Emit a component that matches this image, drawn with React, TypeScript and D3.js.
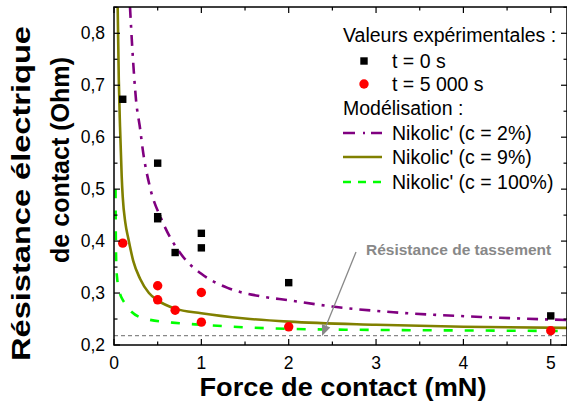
import React from "react";
import * as d3 from "d3";

// ---------- data ----------
const forceT0 = [0.1, 0.5, 0.5, 0.5, 0.7, 1, 1, 2, 5];
const resT0 = [0.673, 0.55, 0.447, 0.443, 0.378, 0.415, 0.387, 0.32, 0.256];

const forceT5000 = [0.1, 0.5, 0.5, 0.7, 1, 1, 2, 5];
const resT5000 = [0.396, 0.314, 0.287, 0.267, 0.301, 0.244, 0.235, 0.2275];

// Nikolic' c = 2 %
const forceC2 = [0.183, 0.21, 0.252, 0.3, 0.33, 0.41, 0.546, 0.79, 1, 1.3, 1.67, 2, 2.5, 3.2, 4.2, 5.19];
const resC2 = [0.851, 0.77, 0.672, 0.615, 0.575, 0.505, 0.441, 0.37, 0.337, 0.31, 0.294, 0.286, 0.274, 0.263, 0.254, 0.248];

// Nikolic' c = 9 %
const forceC9 = [0.042, 0.055, 0.069, 0.088, 0.1, 0.13, 0.164, 0.22, 0.3, 0.4, 0.5, 0.7, 1, 1.5, 2, 3, 4, 5.19];
const resC9 = [0.851, 0.71, 0.62, 0.525, 0.485, 0.435, 0.405, 0.362, 0.327, 0.3, 0.286, 0.27, 0.261, 0.251, 0.245, 0.239, 0.235, 0.233];

// Nikolic' c = 100 %
const forceC100 = [0.0175, 0.019, 0.022, 0.027, 0.035, 0.05, 0.07, 0.1, 0.126, 0.2, 0.37, 0.75, 1, 1.5, 2, 3, 4, 5.19];
const resC100 = [0.5, 0.45, 0.39, 0.35, 0.33, 0.312, 0.298, 0.287, 0.28, 0.264, 0.25, 0.242, 0.239, 0.234, 0.231, 0.229, 0.228, 0.227];

const resTassement = 0.218;

const xTicks = [0, 1, 2, 3, 4, 5];
const yTicks = [0.2, 0.3, 0.4, 0.5, 0.6, 0.7, 0.8];

const legendTitles = ["Valeurs expérimentales :", "Modélisation :"];
const pointLabels = ["t = 0 s", "t = 5 000 s"];
const curveLabels = ["Nikolic' (c = 2%)", "Nikolic' (c = 9%)", "Nikolic' (c = 100%)"];

// ---------- layout ----------
const W = 567;
const H = 403;
const L = 114, R = 567, T = 7, B = 345;

const x = d3.scaleLinear().domain([0, 5.186]).range([L, R]);
const y = d3.scaleLinear().domain([0.2, 0.8506]).range([B, T]);

const FONT = "'Liberation Sans', Arial, sans-serif";

const PURPLE = "#800080";
const OLIVE = "#808000";
const GREEN = "#00ff00";
const GREY = "#888888";

function path(fs: number[], rs: number[]) {
  const line = d3
    .line<number>()
    .x((_, i) => x(fs[i]))
    .y((_, i) => y(rs[i]))
    .curve(d3.curveMonotoneX);
  return line(fs) || "";
}

export default function App() {
  const xMinor = d3.range(0, 5.2, 0.5);
  const yMinor = d3.range(0.2, 0.851, 0.05);

  const fmtY = (v: number) => v.toFixed(1).replace(".", ",");

  // arrow
  const ax1 = 356, ay1 = 252;
  const ax2 = 322, ay2 = 336;
  const ang = Math.atan2(ay2 - ay1, ax2 - ax1);
  const ah = 11, aw = 4.5;
  const bx = ax2 - ah * Math.cos(ang);
  const by = ay2 - ah * Math.sin(ang);
  const head = [
    [ax2, ay2],
    [bx + aw * Math.sin(ang), by - aw * Math.cos(ang)],
    [bx - aw * Math.sin(ang), by + aw * Math.cos(ang)],
  ]
    .map((p) => p.join(","))
    .join(" ");

  const legX = 343;
  const legLineX2 = 382;
  const legTextX = 392;

  return (
    <svg
      width={W}
      height={H}
      viewBox={`0 0 ${W} ${H}`}
      style={{ position: "absolute", left: 0, top: 0, background: "#fff" }}
      fontFamily={FONT}
    >
      <defs>
        <clipPath id="plotclip">
          <rect x={L} y={T} width={R - L} height={B - T} />
        </clipPath>
      </defs>
      <rect x={0} y={0} width={W} height={H} fill="#fff" />

      {/* reference line */}
      <line
        x1={L}
        x2={R}
        y1={y(resTassement)}
        y2={y(resTassement)}
        stroke={GREY}
        strokeWidth={1.3}
        strokeDasharray="4,3"
      />

      {/* model curves */}
      <g clipPath="url(#plotclip)" fill="none">
        <path d={path(forceC100, resC100)} stroke={GREEN} strokeWidth={2.6} strokeDasharray="9,12" />
        <path d={path(forceC9, resC9)} stroke={OLIVE} strokeWidth={2.6} />
        <path d={path(forceC2, resC2)} stroke={PURPLE} strokeWidth={2.6} strokeDasharray="11,7,3,7" />
      </g>

      {/* points */}
      <g>
        {forceT0.map((f, i) => (
          <rect key={"s" + i} x={x(f) - 3.7} y={y(resT0[i]) - 3.7} width={7.4} height={7.4} fill="#000" />
        ))}
        {forceT5000.map((f, i) => (
          <circle key={"c" + i} cx={x(f)} cy={y(resT5000[i])} r={4.7} fill="#ff0000" />
        ))}
      </g>

      {/* frame */}
      <rect x={L} y={T} width={R - L} height={B - T} fill="none" stroke="#000" strokeWidth={1.5} />

      {/* ticks */}
      <g stroke="#000" strokeWidth={1.2}>
        {xMinor.map((v, i) => {
          const major = Math.abs(v - Math.round(v)) < 1e-6;
          const len = major ? 6 : 3.5;
          return (
            <g key={"xt" + i}>
              <line x1={x(v)} x2={x(v)} y1={B} y2={B - len} />
              <line x1={x(v)} x2={x(v)} y1={T} y2={T + len} />
            </g>
          );
        })}
        {yMinor.map((v, i) => {
          const major = Math.abs(v * 10 - Math.round(v * 10)) < 1e-6;
          const len = major ? 6 : 3.5;
          return (
            <g key={"yt" + i}>
              <line x1={L} x2={L + len} y1={y(v)} y2={y(v)} />
              <line x1={R} x2={R - len} y1={y(v)} y2={y(v)} />
            </g>
          );
        })}
      </g>

      {/* tick labels */}
      <g fontSize={17.5} fill="#000">
        {xTicks.map((v) => (
          <text key={"xl" + v} x={x(v)} y={369} textAnchor="middle">
            {v}
          </text>
        ))}
        {yTicks.map((v) => (
          <text key={"yl" + v} x={105} y={y(v) + 6.2} textAnchor="end">
            {fmtY(v)}
          </text>
        ))}
      </g>

      {/* axis titles */}
      <text
        x={343}
        y={396}
        textAnchor="middle"
        fontSize={25}
        fontWeight="bold"
        textLength={287}
        lengthAdjust="spacingAndGlyphs"
      >
        Force de contact (mN)
      </text>
      <text
        transform="translate(30,193.5) rotate(-90)"
        textAnchor="middle"
        fontSize={25}
        fontWeight="bold"
        textLength={335}
        lengthAdjust="spacingAndGlyphs"
      >
        Résistance électrique
      </text>
      <text
        transform="translate(69,160) rotate(-90)"
        textAnchor="middle"
        fontSize={25}
        fontWeight="bold"
        textLength={206}
        lengthAdjust="spacingAndGlyphs"
      >
        de contact (Ohm)
      </text>

      {/* annotation */}
      <text x={366} y={254.5} fontSize={15.5} fontWeight="bold" fill={GREY}>
        Résistance de tassement
      </text>
      <line x1={ax1} y1={ay1} x2={bx} y2={by} stroke={GREY} strokeWidth={1.3} />
      <polygon points={head} fill={GREY} />

      {/* legend */}
      <g fontSize={19.5} fill="#000">
        <text x={legX} y={41.7}>{legendTitles[0]}</text>
        <rect x={364 - 3.7} y={61 - 3.7} width={7.4} height={7.4} fill="#000" />
        <text x={legTextX} y={67.7}>{pointLabels[0]}</text>
        <circle cx={364} cy={84} r={4.7} fill="#ff0000" />
        <text x={legTextX} y={90.7}>{pointLabels[1]}</text>
        <text x={legX} y={114.7}>{legendTitles[1]}</text>

        <line x1={legX} x2={legLineX2} y1={133} y2={133} stroke={PURPLE} strokeWidth={2.6} strokeDasharray="12,8,2,6" />
        <text x={legTextX} y={139.7}>{curveLabels[0]}</text>
        <line x1={legX} x2={legLineX2} y1={157} y2={157} stroke={OLIVE} strokeWidth={2.6} />
        <text x={legTextX} y={163.7}>{curveLabels[1]}</text>
        <line x1={legX} x2={legLineX2} y1={182} y2={182} stroke={GREEN} strokeWidth={2.6} strokeDasharray="8,7" />
        <text x={legTextX} y={188.7}>{curveLabels[2]}</text>
      </g>
    </svg>
  );
}
